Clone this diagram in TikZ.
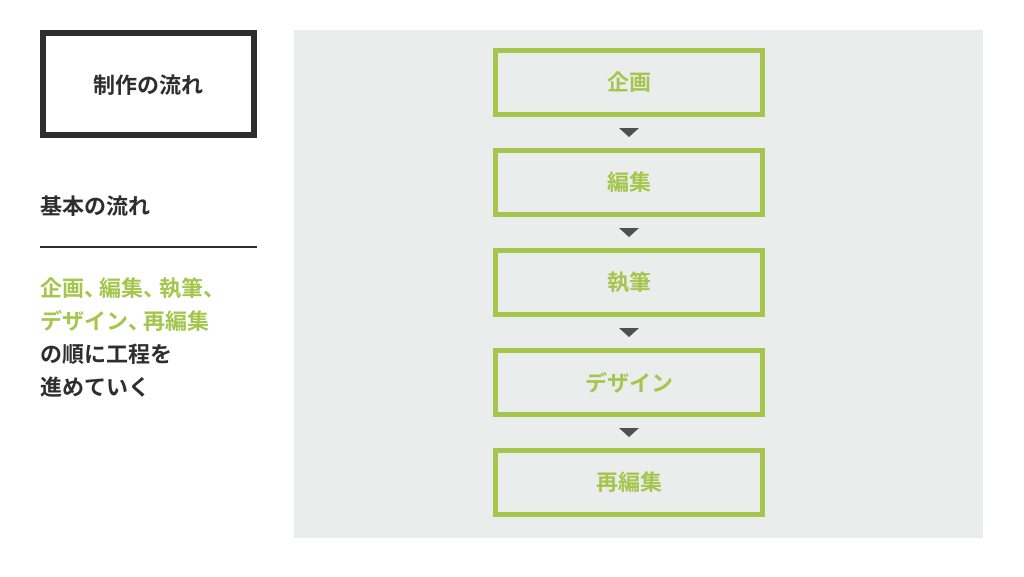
\documentclass[tikz,border=0pt]{standalone}
\usepackage{fontspec}
\newfontfamily\cjk{Noto Sans CJK JP}[BoldFont={Noto Sans CJK JP Bold}]
\definecolor{leaf}{HTML}{A5C64C}
\definecolor{ink}{HTML}{2E2E2E}
\definecolor{panel}{HTML}{EBECEC}
\definecolor{tri}{HTML}{505050}
\newcommand{\tc}{\hbox to 0.7em{、\hss}}
\begin{document}
\begin{tikzpicture}[x=1pt,y=-1pt,
  stepbox/.style={draw=leaf,line width=5pt,fill=panel,minimum width=267pt,minimum height=64pt,inner sep=0pt,font=\cjk\bfseries\fontsize{22}{26}\selectfont,text=leaf},
  arrowtri/.style={fill=tri,draw=none},
  lefttext/.style={anchor=west,inner sep=0pt,font=\cjk\bfseries\fontsize{22}{26}\selectfont}]
\useasboundingbox (0,0) rectangle (1024,576);
\fill[white] (0,0) rectangle (1024,576);
\fill[panel] (294,30) rectangle (983,538);
\node[draw=ink,line width=6pt,minimum width=211pt,minimum height=102pt,inner sep=0pt,font=\cjk\bfseries\fontsize{22}{26}\selectfont,text=ink,text depth=-1pt] (title) at (148.5,84) {制作の流れ};
\node[lefttext,text=ink] (basic) at (40,206) {基本の流れ};
\coordinate (la) at (40,247);
\coordinate (lb) at (257,247);
\draw[ink,line width=1.5pt] (la) -- (lb);
\node[lefttext,text=leaf] (t1) at (40,288) {企画\tc 編集\tc 執筆\tc};
\node[lefttext,text=leaf] (t2) at (40,321) {デザイン\tc 再編集};
\node[lefttext,text=ink] (t3) at (40,354) {の順に工程を};
\node[lefttext,text=ink] (t4) at (40,387) {進めていく};
\foreach \i/\lab in {1/企画,2/編集,3/執筆,4/デザイン,5/再編集}{
  \node[stepbox] (s\i) at (629,{82.5+100*(\i-1)}) {\lab};
}
\foreach \i in {1,2,3,4}{
  \coordinate (c\i) at (629,{132+100*(\i-1)});
  \fill[tri] ([xshift=-10pt,yshift=4pt]c\i) -- ([xshift=10pt,yshift=4pt]c\i) -- ([yshift=-5pt]c\i) -- cycle;
}
\end{tikzpicture}
\end{document}
